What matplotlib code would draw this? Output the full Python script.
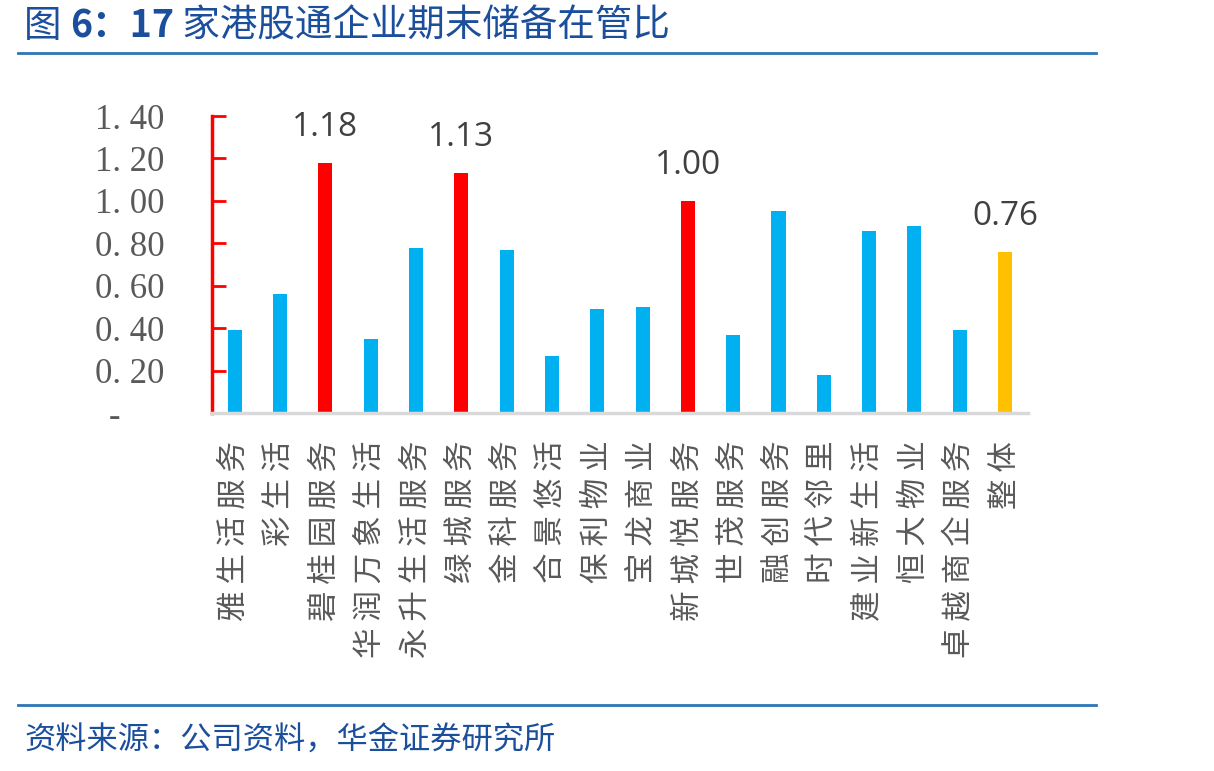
import matplotlib.pyplot as plt
import numpy as np

plt.rcParams['font.family'] = ['Noto Sans CJK SC', 'DejaVu Sans']

companies = ['雅生活服务', '彩生活', '碧桂园服务', '华润万象生活', '永升生活服务',
             '绿城服务', '金科服务', '合景悠活', '保利物业', '宝龙商业',
             '新城悦服务', '世茂服务', '融创服务', '时代邻里', '建业新生活',
             '恒大物业', '卓越商企服务', '整体']
ratios = [0.39, 0.56, 1.18, 0.35, 0.78, 1.13, 0.77, 0.27, 0.49, 0.50,
          1.00, 0.37, 0.95, 0.18, 0.86, 0.88, 0.39, 0.76]
highlight = {2: 'red', 5: 'red', 10: 'red', 17: 'orange'}
yticks = [0, 0.2, 0.4, 0.6, 0.8, 1.0, 1.2, 1.4]
ytick_labels = ['-     ', '0. 20', '0. 40', '0. 60', '0. 80', '1. 00', '1. 20', '1. 40']

BLUE = '#00B0F0'
RED = '#FF0000'
ORANGE = '#FFC000'
TEXT_BLUE = '#1B4F9C'
LINE_BLUE = '#2E75B6'

colors = []
for i in range(len(ratios)):
    c = highlight.get(i)
    colors.append(RED if c == 'red' else ORANGE if c == 'orange' else BLUE)

fig = plt.figure(figsize=(12.14, 7.71), dpi=100)
ax = fig.add_axes([0.1746, 0.4643, 0.672, 0.3852])

x = np.arange(len(ratios))
ax.bar(x, ratios, width=0.31, color=colors, zorder=2)

for i, v in enumerate(ratios):
    if i in highlight:
        ax.text(i, v + 0.09, f'{v:.2f}', ha='center', va='bottom',
                fontsize=24, color='#404040', family=['Open Sans', 'DejaVu Sans'])

ax.set_xlim(-0.5, 17.5)
ax.set_ylim(0, 1.4)

ax.set_yticks(yticks)
ax.set_yticklabels(ytick_labels, family='Liberation Serif', fontsize=25, color='#595959')
ax.tick_params(axis='y', direction='in', length=10, width=2, color=RED, pad=34)

ax.set_xticks(x)
spaced = [' '.join(name) for name in companies]
ax.set_xticklabels(spaced, rotation=90, fontsize=22, color='#595959', va='top',
                   fontweight='light')
ax.tick_params(axis='x', length=0, pad=20)

for s in ['top', 'right']:
    ax.spines[s].set_visible(False)
ax.spines['left'].set_color(RED)
ax.spines['left'].set_linewidth(2.5)
ax.spines['bottom'].set_color('#D9D9D9')
ax.spines['bottom'].set_linewidth(2.5)

# title in three pieces, the number part bold
t1 = fig.text(0.02, 0.966, '图 ', fontsize=27, color=TEXT_BLUE,
              va='center', ha='left', fontweight='light')
t2 = fig.text(0, 0, '6：17', fontsize=27, color=TEXT_BLUE, fontweight='bold')
t2.remove()
t2 = plt.annotate('6：17', xy=(1, 0.5), xycoords=t1, va='center', ha='left',
                  fontsize=27, color=TEXT_BLUE, fontweight='bold')
plt.annotate(' 家港股通企业期末储备在管比', xy=(1, 0.5), xycoords=t2,
             va='center', ha='left', fontsize=27, color=TEXT_BLUE,
             fontweight='light')

fig.add_artist(plt.Line2D([0.015, 0.903], [0.931, 0.931], color=LINE_BLUE, lw=2))
fig.add_artist(plt.Line2D([0.015, 0.903], [0.086, 0.086], color=LINE_BLUE, lw=2))
fig.text(0.02, 0.04, '资料来源：公司资料，华金证券研究所', fontsize=22.5,
         color=TEXT_BLUE, style='italic', va='center', ha='left', fontweight='light')

plt.savefig('out.png', dpi=100)
